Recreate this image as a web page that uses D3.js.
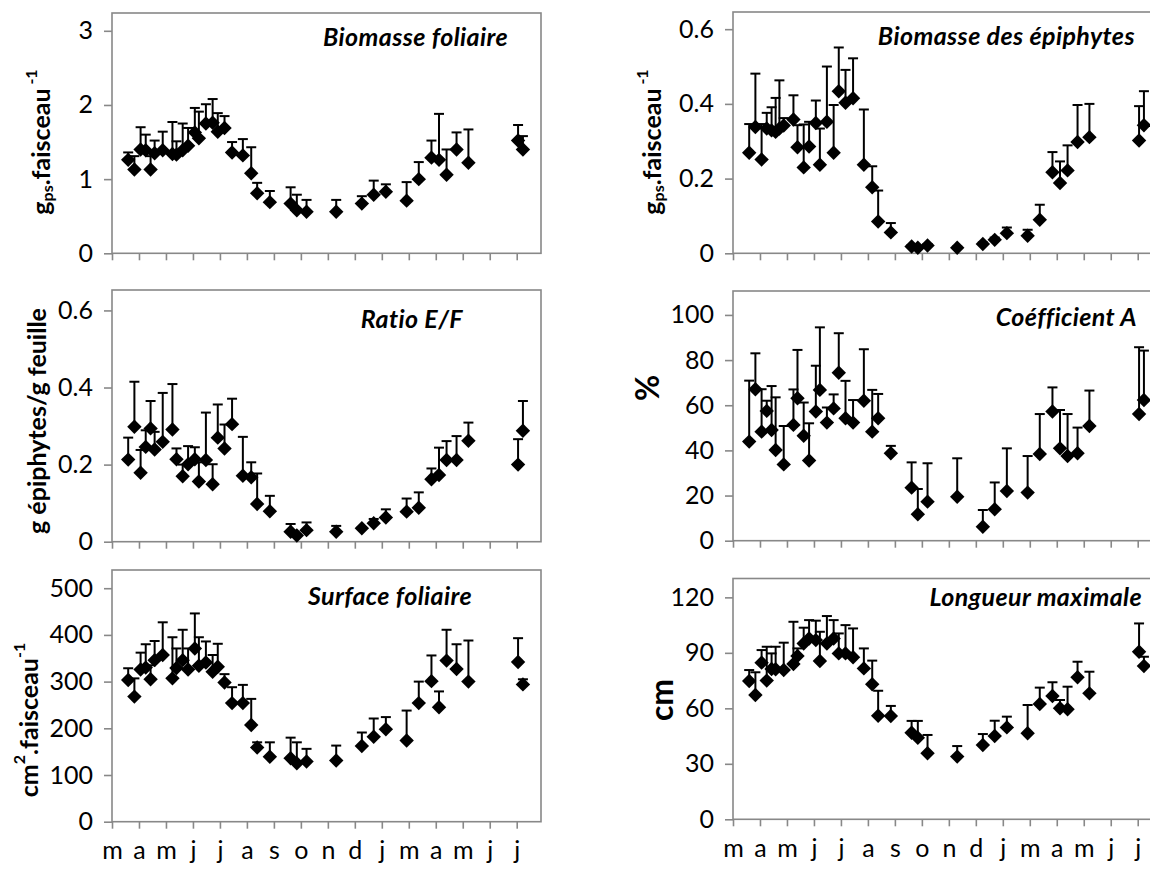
<!DOCTYPE html>
<html>
<head>
<meta charset="utf-8">
<script src="https://cdn.jsdelivr.net/npm/d3@7"></script>
<style>
  html, body { margin: 0; padding: 0; background: #fff; }
  svg { display: block; }
</style>
</head>
<body>
<svg id="chart" width="1150" height="870"></svg>
<script>
// Month labels along the time axis (one per tick)
const monthLabels = ["m","a","m","j","j","a","s","o","n","d","j","m","a","m","j","j"];

// Sampling dates, expressed in months from the first tick
const sampleMonth = [0.60,0.83,1.06,1.25,1.43,1.58,1.72,1.88,2.24,2.39,2.62,2.82,3.07,3.22,3.48,3.73,3.92,4.17,4.45,4.85,5.16,5.38,5.85,6.62,6.85,7.21,8.31,9.26,9.70,10.15,10.92,11.37,11.84,12.12,12.40,12.77,13.21,15.05,15.23];

// Leaf biomass (g dry weight per shoot) and standard deviation
const biomasseFoliaire   = [1.26,1.13,1.40,1.39,1.13,1.35,null,1.39,1.34,1.33,1.39,1.45,1.63,1.55,1.75,1.76,1.64,1.69,1.36,1.32,1.08,0.81,0.69,0.67,0.58,0.56,0.56,0.67,0.79,0.83,0.71,1.00,1.29,1.26,1.06,1.40,1.22,1.52,1.40];
const biomasseFoliaireSd = [0.10,0.18,0.30,0.21,0.18,0.17,null,0.25,0.43,0.18,0.36,0.24,0.33,0.36,0.26,0.32,0.25,0.16,0.14,0.22,0.35,0.14,0.15,0.22,0.21,0.16,0.16,0.10,0.19,0.10,0.25,0.23,0.23,0.62,0.34,0.23,0.45,0.21,0.18];

// Epiphyte biomass (g dry weight per shoot) and standard deviation
const biomasseEpiphytes   = [0.269,0.338,0.251,0.334,0.329,0.325,0.334,0.342,0.358,0.284,0.230,0.286,0.349,0.237,0.352,0.269,0.434,0.403,0.415,0.237,0.177,0.085,0.056,0.018,0.015,0.021,0.015,0.025,0.036,0.054,0.047,0.090,0.217,0.188,0.222,0.298,0.311,0.302,0.343];
const biomasseEpiphytesSd = [0.077,0.143,0.095,0.042,0.062,0.091,0.129,0.020,0.065,0.059,0.115,0.066,0.060,0.097,0.148,0.128,0.117,0.088,0.107,0.148,0.056,0.083,0.025,0.004,0.003,0.004,0.003,0.004,0.006,0.015,0.016,0.040,0.054,0.058,0.067,0.099,0.089,0.092,0.091];

// Epiphyte / leaf ratio and standard deviation
const ratioEF   = [0.213,0.298,0.179,0.246,0.294,0.239,null,0.259,0.291,0.214,0.170,0.201,0.214,0.156,0.212,0.149,0.270,0.242,0.305,0.171,0.167,0.098,0.079,0.026,0.016,0.030,0.026,0.035,0.048,0.063,0.078,0.088,0.162,0.173,0.212,0.212,0.262,0.200,0.288];
const ratioEFSd = [0.057,0.117,0.059,0.043,0.071,0.046,null,0.127,0.118,0.028,0.030,0.047,0.031,0.050,0.123,0.052,0.086,0.062,0.066,0.101,0.039,0.079,0.040,0.020,0.003,0.020,0.015,0.003,0.011,0.021,0.034,0.040,0.028,0.071,0.049,0.062,0.047,0.066,0.077];

// Coefficient A (%) and standard deviation
const coefficientA   = [43.9,67.1,48.3,57.5,49.0,40.2,null,33.8,51.3,63.1,46.5,35.5,57.2,66.8,52.3,58.6,74.4,54.2,52.3,62.0,48.3,54.2,38.7,23.5,11.7,17.3,19.5,6.2,13.9,22.0,21.3,38.4,57.2,40.9,37.5,38.7,50.8,56.1,62.3];
const coefficientASd = [27.0,15.9,18.8,4.5,19.5,23.3,null,17.0,15.7,21.4,14.7,16.5,20.3,27.7,6.7,6.2,17.5,16.6,10.0,22.8,18.5,10.8,3.3,11.2,11.2,17.0,17.0,7.4,11.9,18.9,16.2,17.7,10.7,17.0,18.6,11.4,15.7,29.6,21.9];

// Leaf area (cm² per shoot) and standard deviation
const surfaceFoliaire   = [303.6,267.9,326,330,305,346,null,357,307,329,346,326,371,334,341,321,332,298,254,254,207,159,139,136,125,129,131,162,182,198,174,254,301,245,345,327,300,342,294];
const surfaceFoliaireSd = [25,39,36,50,30,41,null,70,88,42,65,45,75,61,45,36,49,18,34,39,56,11,31,44,45,27,32,29,39,26,64,46,55,34,66,53,88,51,11];

// Maximum leaf length (cm) and standard deviation
const longueurMax   = [74.8,67.2,84.7,75.0,81.3,81.1,null,80.7,84.0,88.3,95.1,97.8,96.9,85.6,95.1,97.8,89.7,89.7,87.6,81.6,73.0,56.0,55.9,46.8,44.1,35.7,33.9,40.2,45.0,49.7,46.5,62.3,66.7,60.0,59.5,76.8,68.1,90.6,82.9];
const longueurMaxSd = [5.9,12.3,6.8,18.3,8.4,12.2,null,14.8,22.8,4.1,8.5,9.9,10.5,15.8,14.8,9.9,10.8,15.3,15.6,10.8,12.8,13.5,5.4,6.4,9.1,9.9,5.7,5.9,8.3,5.8,15.3,8.9,7.4,4.5,12.2,8.4,11.7,15.3,5.0];

// Y tick values per panel
const ticksBiomFol = [0, 1, 2, 3];
const ticksBiomEpi = [0, 0.2, 0.4, 0.6];
const ticksRatio   = [0, 0.2, 0.4, 0.6];
const ticksCoefA   = [0, 20, 40, 60, 80, 100];
const ticksSurface = [0, 100, 200, 300, 400, 500];
const ticksLongueur = [0, 30, 60, 90, 120];

const FONT = "Lato, 'Open Sans', 'DejaVu Sans', sans-serif";
const AXIS_GREY = "#888888";

const svg = d3.select("#chart");

// Layout of the six panels
const columns = [{ left: 112, right: 541 }, { left: 733, right: 1162 }];
const monthMax = 15.9;

const panels = [
  { col: 0, top: 13,  bottom: 253.3, yMax: 3.24,  ticks: ticksBiomFol, mean: biomasseFoliaire, sd: biomasseFoliaireSd,
    title: "Biomasse foliaire", titleEnd: 508, titleBase: 46, label: "gps", labelX: 40, labelY: 142 },
  { col: 1, top: 12,  bottom: 253.3, yMax: 0.646, ticks: ticksBiomEpi, mean: biomasseEpiphytes, sd: biomasseEpiphytesSd,
    title: "Biomasse des épiphytes", titleEnd: 1135, titleBase: 45, label: "gps", labelX: 651, labelY: 142 },
  { col: 0, top: 290, bottom: 541.7, yMax: 0.653, ticks: ticksRatio, mean: ratioEF, sd: ratioEFSd,
    title: "Ratio E/F", titleEnd: 463, titleBase: 328, label: "ratio", labelX: 36, labelY: 421 },
  { col: 1, top: 291, bottom: 540.7, yMax: 110.6, ticks: ticksCoefA, mean: coefficientA, sd: coefficientASd,
    title: "Coéfficient A", titleEnd: 1137, titleBase: 326, label: "pct", labelX: 646, labelY: 388 },
  { col: 0, top: 570, bottom: 821.7, yMax: 539, ticks: ticksSurface, mean: surfaceFoliaire, sd: surfaceFoliaireSd,
    title: "Surface foliaire", titleEnd: 472, titleBase: 605, label: "cm2", labelX: 28, labelY: 720, months: true },
  { col: 1, top: 578.5, bottom: 819.3, yMax: 130.2, ticks: ticksLongueur, mean: longueurMax, sd: longueurMaxSd,
    title: "Longueur maximale", titleEnd: 1142, titleBase: 606, label: "cm", labelX: 660, labelY: 700, months: true }
];

const fmt = v => (Math.round(v * 100) / 100).toString();
const diamond = d3.symbol().type(d3.symbolSquare).size(104);

panels.forEach(p => {
  const c = columns[p.col];
  const x = d3.scaleLinear().domain([0, monthMax]).range([c.left, c.right]);
  const y = d3.scaleLinear().domain([0, p.yMax]).range([p.bottom, p.top]);
  const g = svg.append("g");

  // plot frame
  g.append("rect")
    .attr("x", c.left).attr("y", p.top)
    .attr("width", c.right - c.left).attr("height", p.bottom - p.top)
    .attr("fill", "none").attr("stroke", AXIS_GREY).attr("stroke-width", 1.6);

  // y axis ticks and labels
  const yAxis = d3.axisLeft(y).tickValues(p.ticks).tickSize(8).tickPadding(11).tickFormat(fmt);
  const ya = g.append("g").attr("transform", `translate(${c.left},0)`).call(yAxis);
  ya.select(".domain").remove();
  ya.selectAll(".tick line").attr("stroke", AXIS_GREY).attr("stroke-width", 1.6);
  ya.selectAll(".tick text").attr("fill", "#000").style("font-family", FONT).style("font-size", "25px");

  // x axis ticks, one per month
  const xAxis = d3.axisBottom(x).tickValues(d3.range(monthLabels.length)).tickSize(7).tickPadding(13)
    .tickFormat(i => p.months ? monthLabels[i] : "");
  const xa = g.append("g").attr("transform", `translate(0,${p.bottom})`).call(xAxis);
  xa.select(".domain").remove();
  xa.selectAll(".tick line").attr("stroke", AXIS_GREY).attr("stroke-width", 1.6);
  xa.selectAll(".tick text").attr("fill", "#000").style("font-family", FONT).style("font-size", "25px");

  const pts = sampleMonth.map((m, i) => ({ m, v: p.mean[i], s: p.sd[i] })).filter(d => d.v != null);

  // error bars (mean + sd)
  const eb = g.append("g").attr("stroke", "#000").attr("stroke-width", 2);
  eb.selectAll("line.stem").data(pts).join("line").attr("class", "stem")
    .attr("x1", d => x(d.m)).attr("x2", d => x(d.m))
    .attr("y1", d => y(d.v)).attr("y2", d => y(d.v + d.s));
  eb.selectAll("line.cap").data(pts).join("line").attr("class", "cap")
    .attr("x1", d => x(d.m) - 5).attr("x2", d => x(d.m) + 5)
    .attr("y1", d => y(d.v + d.s)).attr("y2", d => y(d.v + d.s));

  // diamond markers
  g.append("g").selectAll("path").data(pts).join("path")
    .attr("d", diamond)
    .attr("transform", d => `translate(${x(d.m)},${y(d.v)}) rotate(45)`)
    .attr("fill", "#000");

  // panel title
  g.append("text")
    .attr("x", p.titleEnd).attr("y", p.titleBase)
    .attr("text-anchor", "end")
    .style("font-family", FONT).style("font-size", "25px")
    .style("letter-spacing", "0.4px")
    .style("font-weight", "bold").style("font-style", "italic")
    .text(p.title);

  // y axis title
  const t = g.append("text")
    .attr("transform", `translate(${p.labelX},${p.labelY}) rotate(-90)`)
    .attr("text-anchor", "middle").attr("dominant-baseline", "central")
    .style("font-family", FONT).style("font-weight", "bold").style("font-size", "25px");
  if (p.label === "gps") {
    t.append("tspan").text("g");
    t.append("tspan").attr("dy", 6).style("font-size", "16px").text("ps");
    t.append("tspan").attr("dy", -6).text(".faisceau");
    t.append("tspan").attr("dy", -10).style("font-size", "16px").text(" -1");
  } else if (p.label === "ratio") {
    t.style("font-size", "25px").text("g épiphytes/g feuille");
  } else if (p.label === "pct") {
    t.style("font-size", "32px").text("%");
  } else if (p.label === "cm2") {
    t.append("tspan").text("cm");
    t.append("tspan").attr("dy", -10).style("font-size", "16px").text("2");
    t.append("tspan").attr("dy", 10).text(".faisceau");
    t.append("tspan").attr("dy", -10).style("font-size", "16px").text("-1");
  } else if (p.label === "cm") {
    t.style("font-size", "32px").text("cm");
  }
});
</script>
</body>
</html>
